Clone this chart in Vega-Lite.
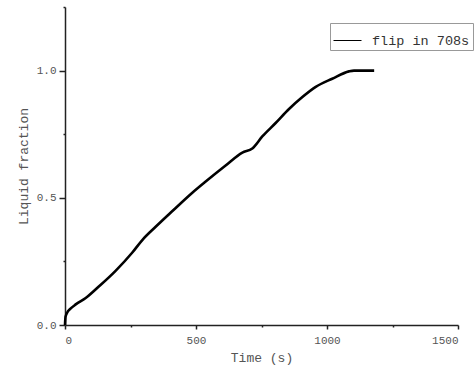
{
  "$schema": "https://vega.github.io/schema/vega-lite/v6.json",
  "autosize": "none",
  "width": 393,
  "height": 318,
  "padding": {"left": 65, "top": 7, "right": 16, "bottom": 48},
  "background": "white",
  "config": {"view": {"stroke": null}},
  "data": {"values": [
    {"t": 0, "f": 0, "s": "flip in 708s"},
    {"t": 2, "f": 0.032, "s": "flip in 708s"},
    {"t": 8, "f": 0.048, "s": "flip in 708s"},
    {"t": 21, "f": 0.064, "s": "flip in 708s"},
    {"t": 41, "f": 0.081, "s": "flip in 708s"},
    {"t": 79, "f": 0.106, "s": "flip in 708s"},
    {"t": 130, "f": 0.152, "s": "flip in 708s"},
    {"t": 193, "f": 0.213, "s": "flip in 708s"},
    {"t": 257, "f": 0.285, "s": "flip in 708s"},
    {"t": 295, "f": 0.334, "s": "flip in 708s"},
    {"t": 346, "f": 0.386, "s": "flip in 708s"},
    {"t": 410, "f": 0.448, "s": "flip in 708s"},
    {"t": 486, "f": 0.52, "s": "flip in 708s"},
    {"t": 537, "f": 0.564, "s": "flip in 708s"},
    {"t": 613, "f": 0.627, "s": "flip in 708s"},
    {"t": 677, "f": 0.678, "s": "flip in 708s"},
    {"t": 715, "f": 0.694, "s": "flip in 708s"},
    {"t": 753, "f": 0.741, "s": "flip in 708s"},
    {"t": 804, "f": 0.794, "s": "flip in 708s"},
    {"t": 855, "f": 0.849, "s": "flip in 708s"},
    {"t": 906, "f": 0.896, "s": "flip in 708s"},
    {"t": 957, "f": 0.936, "s": "flip in 708s"},
    {"t": 1020, "f": 0.968, "s": "flip in 708s"},
    {"t": 1084, "f": 0.997, "s": "flip in 708s"},
    {"t": 1103, "f": 1.0, "s": "flip in 708s"},
    {"t": 1180, "f": 1.0, "s": "flip in 708s"}
  ]},
  "mark": {"type": "line", "strokeWidth": 2.6, "interpolate": "monotone"},
  "encoding": {
    "x": {
      "field": "t", "type": "quantitative",
      "scale": {"domain": [0, 1500], "nice": false},
      "axis": {
        "title": "Time (s)",
        "values": [0, 250, 500, 750, 1000, 1250, 1500],
        "labelExpr": "datum.value % 500 == 0 ? format(datum.value, 'd') : ''",
        "grid": false,
        "domainColor": "#222", "domainWidth": 1.5,
        "tickColor": "#222", "tickWidth": 1.5,
        "tickSize": {"condition": {"test": "datum.value % 500 == 0", "value": 4}, "value": 2},
        "labelFont": "Liberation Mono", "labelFontSize": 11, "labelColor": "#555",
        "labelPadding": 5,
        "titleFont": "Liberation Mono", "titleFontSize": 13, "titleColor": "#555",
        "titleFontWeight": "normal", "titlePadding": 6
      }
    },
    "y": {
      "field": "f", "type": "quantitative",
      "scale": {"domain": [0, 1.25], "nice": false},
      "axis": {
        "title": "Liquid fraction",
        "values": [0, 0.25, 0.5, 0.75, 1.0, 1.25],
        "labelExpr": "datum.value % 0.5 == 0 ? format(datum.value, '.1f') : ''",
        "grid": false,
        "domainColor": "#222", "domainWidth": 1.5,
        "tickColor": "#222", "tickWidth": 1.5,
        "tickSize": {"condition": {"test": "datum.value % 0.5 == 0", "value": 6}, "value": 2},
        "labelFont": "Liberation Mono", "labelFontSize": 11, "labelColor": "#555",
        "labelPadding": 3,
        "titleFont": "Liberation Mono", "titleFontSize": 13, "titleColor": "#555",
        "titleFontWeight": "normal", "titlePadding": 6
      }
    },
    "color": {
      "field": "s", "type": "nominal",
      "scale": {"range": ["black"]},
      "legend": {
        "title": null,
        "orient": "none",
        "legendX": 265,
        "legendY": 16,
        "symbolType": "stroke",
        "symbolSize": 784,
        "symbolStrokeWidth": 1,
        "symbolStrokeColor": "#555",
        "labelFont": "Liberation Mono",
        "labelFontSize": 13.5,
        "labelColor": "#333",
        "labelOffset": 10,
        "strokeColor": "#999",
        "padding": 3,
        "fillColor": "white"
      }
    }
  }
}
